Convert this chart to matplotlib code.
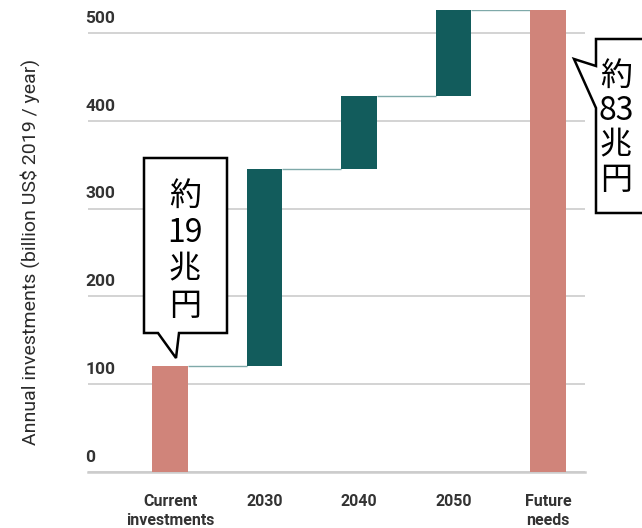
#!/usr/bin/env python3
import matplotlib
matplotlib.use("Agg")
import matplotlib.pyplot as plt
from matplotlib.patches import Polygon

# 投資額（十億ドル / 年）
categories = ["Current\ninvestments", "2030", "2040", "2050", "Future\nneeds"]
bar_bottoms = [0, 121, 345, 428, 0]
bar_tops = [121, 345, 428, 526, 526]
bar_kinds = ["total", "step", "step", "step", "total"]
y_ticks = [0, 100, 200, 300, 400, 500]
callout_texts = ["約\n19\n兆\n円", "約\n83\n兆\n円"]

PINK = "#d0847a"
TEAL = "#125c5c"
LINK = "#7fa9a9"
W, H = 642, 528


def px(x, y):
    """ピクセル座標 -> figure 座標"""
    return (x / W, 1 - y / H)


def draw_callout(fig, pts, text, text_xy, spacing):
    poly = Polygon([px(*p) for p in pts], closed=True, transform=fig.transFigure,
                   facecolor="white", edgecolor="black", linewidth=1.8,
                   joinstyle="miter", zorder=5)
    fig.patches.append(poly)
    fig.text(*px(*text_xy), text, ha="center", va="center",
             fontsize=23, linespacing=spacing,
             family=["Noto Sans CJK JP", "DejaVu Sans"], zorder=6)


def main() -> None:
    fig = plt.figure(figsize=(W / 100, H / 100), dpi=100)
    ax = fig.add_axes([88 / W, 1 - 472 / H, (585 - 88) / W, (472 - 10) / H])

    xs = list(range(len(categories)))
    heights = [t - b for t, b in zip(bar_tops, bar_bottoms)]
    colors = [PINK if k == "total" else TEAL for k in bar_kinds]
    ax.bar(xs, heights, bottom=bar_bottoms, width=0.38, color=colors, zorder=3)

    # 段差をつなぐ細線
    half = 0.19
    for i in range(len(xs) - 1):
        ax.plot([xs[i] + half, xs[i + 1] - half], [bar_tops[i], bar_tops[i]],
                color=LINK, linewidth=1.0, zorder=2, solid_capstyle="butt")

    ax.set_xlim(-0.868, 4.392)
    ax.set_ylim(0, 526)
    ax.set_yticks(y_ticks)
    ax.set_yticklabels([])
    ax.tick_params(axis="y", length=0)
    ax.grid(axis="y", color="#cccccc", linewidth=1.2, zorder=0)
    ax.axhline(0, color="#cccccc", linewidth=1.8, zorder=1, clip_on=False)
    for s in ax.spines.values():
        s.set_visible(False)

    # y 目盛はグリッド線の上に左寄せ
    for v in y_ticks:
        ax.text(-0.005, v + 8, str(v), transform=ax.get_yaxis_transform(),
                ha="left", va="bottom", fontsize=12.5, fontweight="bold",
                family="Roboto", color="#333333")

    ax.set_xticks(xs)
    ax.set_xticklabels(categories, fontsize=11.5, fontweight="bold",
                       family="Roboto", color="#333333", linespacing=1.35)
    ax.tick_params(axis="x", length=0, pad=16)

    fig.text(*px(30, 252), "Annual investments (billion US$ 2019 / year)",
             rotation=90, ha="center", va="center", fontsize=14,
             family="Roboto", color="#2a2a2a")

    draw_callout(fig, [(144, 158), (227, 158), (227, 333), (179, 333),
                       (176, 358), (158, 333), (144, 333)],
                 callout_texts[0], (185, 251), 1.2)
    draw_callout(fig, [(596, 39), (660, 39), (660, 213), (596, 213),
                       (596, 108), (574, 59), (596, 66)],
                 callout_texts[1], (616, 128), 1.12)

    fig.savefig("out.png", dpi=100)


if __name__ == "__main__":
    main()
